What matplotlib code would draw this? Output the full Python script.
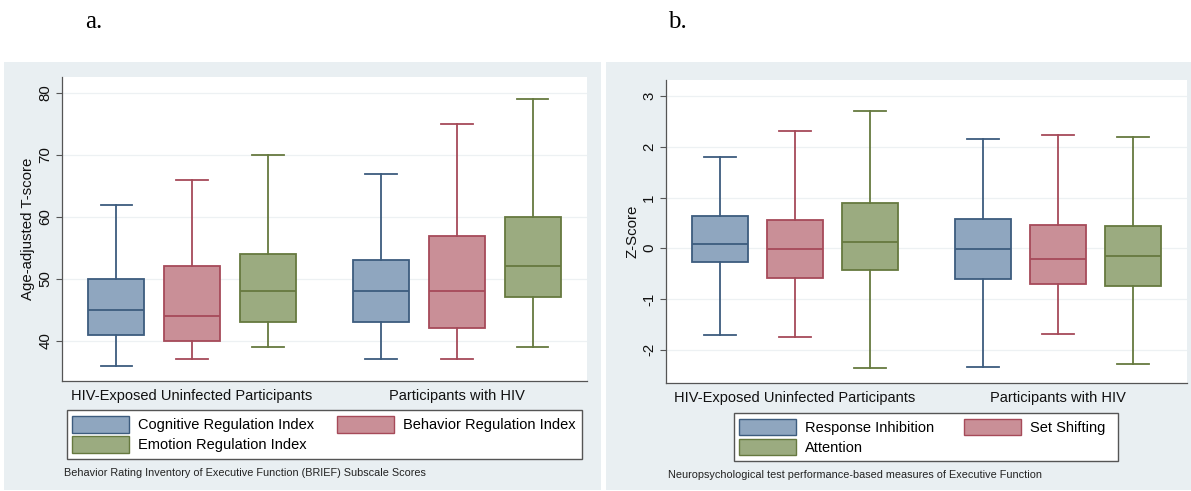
import matplotlib
matplotlib.use("Agg")
import matplotlib.pyplot as plt
from matplotlib.patches import Rectangle, Patch

plt.rcParams['font.family'] = ['Liberation Sans', 'DejaVu Sans']

W, H = 1191, 491
fig = plt.figure(figsize=(W / 100, H / 100), dpi=100)
fig.patch.set_facecolor('white')

# ---------------- data ----------------
groups = ["HIV-Exposed Uninfected Participants", "Participants with HIV"]

brief_series = ["Cognitive Regulation Index", "Behavior Regulation Index", "Emotion Regulation Index"]
# per series: [group1, group2] of (low whisker, Q1, median, Q3, high whisker)
brief_low = [[36, 37], [37, 37], [39, 39]]
brief_q1 = [[41, 43], [40, 42], [43, 47]]
brief_med = [[45, 48], [44, 48], [48, 52]]
brief_q3 = [[50, 53], [52, 57], [54, 60]]
brief_high = [[62, 67], [66, 75], [70, 79]]
brief_yticks = [40, 50, 60, 70, 80]

neuro_series = ["Response Inhibition", "Set Shifting", "Attention"]
neuro_low = [[-1.72, -2.34], [-1.76, -1.70], [-2.36, -2.28]]
neuro_q1 = [[-0.28, -0.60], [-0.59, -0.70], [-0.43, -0.74]]
neuro_med = [[0.08, -0.01], [-0.01, -0.22], [0.12, -0.15]]
neuro_q3 = [[0.64, 0.58], [0.56, 0.45], [0.89, 0.44]]
neuro_high = [[1.80, 2.16], [2.32, 2.23], [2.70, 2.20]]
neuro_yticks = [-2, -1, 0, 1, 2, 3]

fills = ["#8fa6bf", "#c98f97", "#9bab80"]
edges = ["#3d5c7e", "#a64a59", "#66793f"]

PANEL_BG = "#e9eff2"

def fx(px):
    return px / W

def fy(py):
    return 1 - py / H

# panel backgrounds
for (x0, x1) in [(4, 601), (606, 1191)]:
    fig.patches.append(Rectangle((fx(x0), fy(490)), fx(x1) - fx(x0), fy(62) - fy(490),
                                 transform=fig.transFigure, facecolor=PANEL_BG,
                                 edgecolor='none', zorder=-5))


def draw_panel(ax_rect, low, q1, med, q3, high, series, yticks, ylim, ylabel,
               legend_box, caption, cap_xy, colsp):
    x0, y0, x1, y1 = ax_rect
    ax = fig.add_axes([fx(x0), fy(y1), fx(x1) - fx(x0), fy(y0) - fy(y1)])
    ax.set_zorder(2)
    ax.set_facecolor('white')
    gap = 1.5
    for s in range(3):
        stats = []
        pos = []
        for g in range(2):
            stats.append(dict(whislo=low[s][g], q1=q1[s][g], med=med[s][g],
                              q3=q3[s][g], whishi=high[s][g], fliers=[]))
            pos.append(s + g * (2 + gap))
        ax.bxp(stats, positions=pos, widths=0.74, patch_artist=True,
               showfliers=False, capwidths=0.42,
               boxprops=dict(facecolor=fills[s], edgecolor=edges[s], linewidth=1.3),
               medianprops=dict(color=edges[s], linewidth=1.3),
               whiskerprops=dict(color=edges[s], linewidth=1.3),
               capprops=dict(color=edges[s], linewidth=1.3))
    ax.set_xlim(-0.72, 2 + gap + 2 + 0.72)
    ax.set_ylim(*ylim)
    ax.set_xticks([1, 1 + 2 + gap])
    ax.set_xticklabels(groups, fontsize=10.5, color='#111111')
    ax.tick_params(axis='x', length=0, pad=6)
    ax.set_yticks(yticks)
    ax.set_yticklabels([str(t) for t in yticks], rotation=90, va='center',
                       fontsize=10.8, color='#111111')
    ax.tick_params(axis='y', length=4, width=0.8, color='#555555', pad=3)
    for sp in ['top', 'right']:
        ax.spines[sp].set_visible(False)
    for sp in ['left', 'bottom']:
        ax.spines[sp].set_color('#555555')
        ax.spines[sp].set_linewidth(0.9)
    ax.yaxis.grid(True, color='#edf1f3', linewidth=0.9)
    ax.set_axisbelow(True)
    ax.set_ylabel(ylabel, fontsize=10.8, color='#111111', labelpad=2)

    handles = [Patch(facecolor=fills[i], edgecolor=edges[i], linewidth=1.0) for i in range(3)]
    order = [0, 2, 1]
    lx0, ly0, lx1, ly1 = legend_box
    # legend frame
    fig.patches.append(Rectangle((fx(lx0), fy(ly1)), fx(lx1) - fx(lx0), fy(ly0) - fy(ly1),
                                 transform=fig.transFigure, facecolor='white',
                                 edgecolor='#555555', linewidth=1.0, zorder=1))
    leg = fig.legend([handles[i] for i in order], [series[i] for i in order],
                     ncol=2, loc='center left',
                     bbox_to_anchor=(fx(lx0 + 5), (fy(ly1) + fy(ly0)) / 2),
                     fontsize=10.5, frameon=False,
                     handlelength=3.9, handleheight=1.35, handletextpad=0.6,
                     columnspacing=colsp, borderaxespad=0, borderpad=0.0,
                     labelspacing=0.25)
    leg.set_zorder(3)
    fig.text(fx(cap_xy[0]), fy(cap_xy[1]), caption, fontsize=7.8, color='#222222',
             ha='left', va='center')
    return ax


draw_panel((62, 77, 587, 381), brief_low, brief_q1, brief_med, brief_q3, brief_high,
           brief_series, brief_yticks, (33.5, 82.6), "Age-adjusted T-score",
           (67, 410, 582, 459),
           "Behavior Rating Inventory of Executive Function (BRIEF) Subscale Scores",
           (64, 473), 1.6)

draw_panel((666, 80, 1187, 383), neuro_low, neuro_q1, neuro_med, neuro_q3, neuro_high,
           neuro_series, neuro_yticks, (-2.66, 3.32), "Z-Score",
           (734, 413, 1118, 461),
           "Neuropsychological test performance-based measures of Executive Function",
           (668, 475), 2.1)

fig.text(fx(85), fy(22), "a.", fontsize=18, family=['Liberation Serif', 'DejaVu Serif'],
         ha='left', va='center', color='black')
fig.text(fx(668), fy(22), "b.", fontsize=18, family=['Liberation Serif', 'DejaVu Serif'],
         ha='left', va='center', color='black')

fig.savefig("out.png", dpi=100, facecolor='white')
